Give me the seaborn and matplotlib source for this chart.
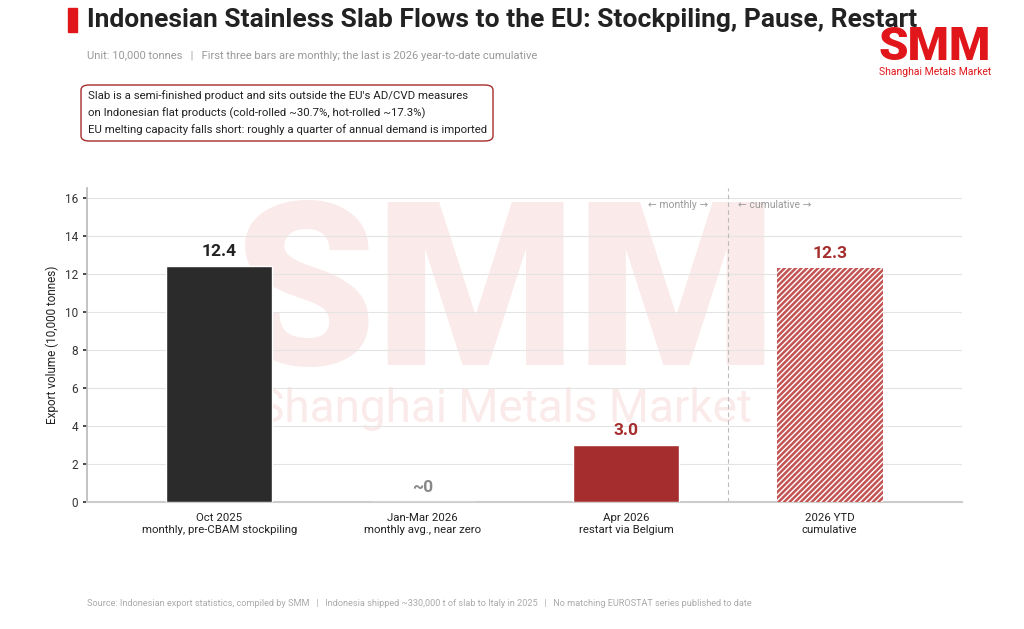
import numpy as np
import pandas as pd
import matplotlib.pyplot as plt
import seaborn as sns
from matplotlib.patches import FancyBboxPatch, Rectangle

# chart data
categories = ["Oct 2025\nmonthly, pre-CBAM stockpiling",
              "Jan-Mar 2026\nmonthly avg., near zero",
              "Apr 2026\nrestart via Belgium",
              "2026 YTD\ncumulative"]
volumes = [12.4, 0.0, 3.0, 12.3]
value_labels = ["12.4", "~0", "3.0", "12.3"]
yticks = [0, 2, 4, 6, 8, 10, 12, 14, 16]

bar_colors = ["#2b2b2b", "#dddddd", "#a62d2d", "#c45454"]
label_colors = ["#222222", "#888888", "#a62d2d", "#a62d2d"]

df = pd.DataFrame({"category": categories, "volume": volumes})

sns.set_theme(style="white")
plt.rcParams["font.family"] = ["Roboto", "DejaVu Sans"]
plt.rcParams["hatch.color"] = "white"
plt.rcParams["hatch.linewidth"] = 1.0

fig = plt.figure(figsize=(10.24, 6.29), dpi=100)
ax = fig.add_axes([87 / 1024, 1 - 502 / 629, 875 / 1024, 314 / 629])
ax.set_zorder(1)
ax.patch.set_alpha(0)

# watermark behind the plot
fig.text(0.493, 0.555, "SMM", fontsize=165, fontweight="black",
         color="#fbeaea", ha="center", va="center_baseline", zorder=0)
fig.text(0.493, 0.35, "Shanghai Metals Market", fontsize=33, color="#fbeaea",
         ha="center", va="center", zorder=0)

sns.barplot(data=df, x="category", y="volume", hue="category",
            palette=bar_colors, saturation=1, legend=False, width=0.52,
            ax=ax, zorder=3)

# hatch the cumulative bar
last = ax.patches[3]
last.set_hatch("//////")
last.set_edgecolor("white")
last.set_linewidth(0)

for i, (v, lab, c) in enumerate(zip(volumes, value_labels, label_colors)):
    ax.text(i, v + 0.35, lab, ha="center", va="bottom", fontsize=12.5,
            fontweight="bold", color=c, zorder=4)

ax.set_xlim(-0.65, 3.65)
ax.set_ylim(0, 16.5)
ax.set_yticks(yticks)
ax.tick_params(axis="y", labelsize=8.5, colors="#333333", length=3, left=True)
ax.tick_params(axis="x", labelsize=8.2, colors="#222222", length=0, pad=8)
ax.yaxis.grid(True, color="#e4e4e4", linewidth=0.8, zorder=0)
ax.set_axisbelow(True)
ax.set_xlabel("")
ax.set_ylabel("Export volume (10,000 tonnes)", fontsize=8.5, color="#222222")
for s in ["top", "right"]:
    ax.spines[s].set_visible(False)
ax.spines["left"].set_color("#bbbbbb")
ax.spines["bottom"].set_color("#cccccc")
ax.spines["bottom"].set_linewidth(1.5)

# divider between monthly and cumulative
ax.axvline(2.5, color="#bbbbbb", linestyle=(0, (4, 3)), linewidth=0.8, zorder=2)
ax.text(2.4, 15.6, "\u2190 monthly \u2192", ha="right", va="center",
        fontsize=7.5, color="#999999")
ax.text(2.55, 15.6, "\u2190 cumulative \u2192", ha="left", va="center",
        fontsize=7.5, color="#999999")

# title block
fig.patches.append(Rectangle((68 / 1024, 1 - 32 / 629), 9 / 1024, 24 / 629,
                             transform=fig.transFigure, color="#e0161b"))
fig.text(87 / 1024, 1 - 20 / 629, "Indonesian Stainless Slab Flows to the EU: Stockpiling, Pause, Restart",
         fontsize=19, fontweight="bold", color="#222222", va="center")
fig.text(87 / 1024, 1 - 56 / 629,
         "Unit: 10,000 tonnes   |   First three bars are monthly; the last is 2026 year-to-date cumulative",
         fontsize=8, color="#999999", va="center")

# logo
fig.text(935 / 1024, 1 - 47 / 629, "SMM", fontsize=34, fontweight="black",
         color="#e0161b", ha="center", va="center")
fig.text(935 / 1024, 1 - 72 / 629, "Shanghai Metals Market", fontsize=7.5,
         color="#e0161b", ha="center", va="center")

# note box
fig.patches.append(FancyBboxPatch((81 / 1024, 1 - 141 / 629), 412 / 1024, 56 / 629,
                                  boxstyle="round,pad=0,rounding_size=0.008",
                                  transform=fig.transFigure, facecolor="white",
                                  edgecolor="#a62d2d", linewidth=1))
notes = ["Slab is a semi-finished product and sits outside the EU's AD/CVD measures",
         "on Indonesian flat products (cold-rolled ~30.7%, hot-rolled ~17.3%)",
         "EU melting capacity falls short: roughly a quarter of annual demand is imported"]
for k, line in enumerate(notes):
    fig.text(88 / 1024, 1 - (96 + 17 * k) / 629, line, fontsize=8.2, color="#222222", va="center")

# footer
fig.text(87 / 1024, 1 - 604 / 629,
         "Source: Indonesian export statistics, compiled by SMM   |   Indonesia shipped ~330,000 t of slab to Italy in 2025   |   No matching EUROSTAT series published to date",
         fontsize=6.6, color="#aaaaaa", va="center")

fig.savefig("out.png", dpi=100)
